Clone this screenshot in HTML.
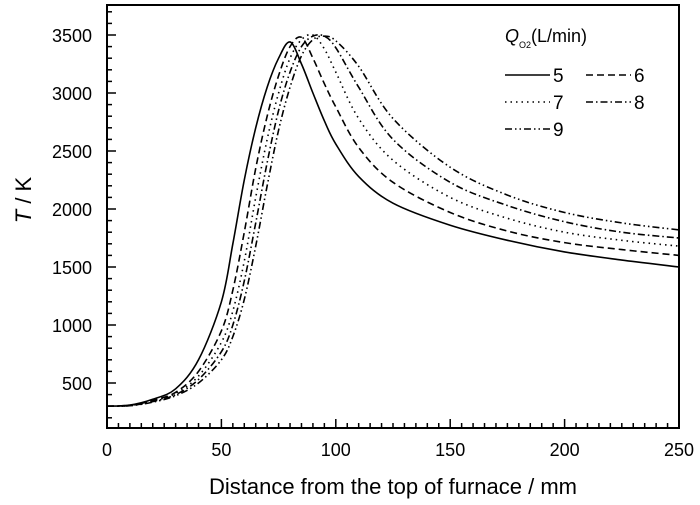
<!DOCTYPE html>
<html><head><meta charset="utf-8"><style>
body{margin:0;background:#fff}
svg{display:block;font-family:"Liberation Sans",Arial,sans-serif}
</style></head><body>
<svg id="chart" width="700" height="505" viewBox="0 0 700 505">
<g id="plot"></g>
</svg>
<script>
const xs=[0,10,20,30,40,50,55,60,65,70,75,80,85,90,95,100,110,125,150,175,200,225,250];
const seriesNames=["5","6","7","8","9"];
const s5=[300,310,360,450,700,1200,1700,2250,2700,3050,3300,3440,3250,3000,2760,2560,2280,2050,1860,1730,1630,1560,1500];
const s6=[300,308,350,420,600,950,1300,1800,2350,2800,3150,3400,3480,3300,3080,2880,2530,2230,1970,1810,1710,1650,1600];
const s7=[300,306,345,410,560,850,1120,1550,2100,2600,3000,3300,3460,3500,3380,3180,2780,2420,2100,1920,1800,1730,1680];
const s8=[300,305,340,400,530,770,1000,1380,1880,2400,2850,3180,3400,3490,3490,3390,3050,2600,2230,2030,1890,1800,1750];
const s9=[300,304,335,390,500,700,900,1220,1680,2200,2680,3050,3320,3460,3490,3450,3230,2780,2360,2120,1970,1880,1820];
const xTicks=[0,50,100,150,200,250];
const yTicks=[500,1000,1500,2000,2500,3000,3500];
const all=[s5,s6,s7,s8,s9];
const dashes=["","7,4","1.5,4","7,3,1.5,3","7,3,1.5,3,1.5,3"];
const L=107,R=679,T=5,B=428;
const X=v=>L+v*(R-L)/250;
const Y=v=>383-(v-500)*0.116;
const NS="http://www.w3.org/2000/svg";
const g=document.getElementById('plot');
function mk(t,a,p){const e=document.createElementNS(NS,t);for(const k in a)e.setAttribute(k,a[k]);(p||g).appendChild(e);return e;}
function path(xv,yv){const p=xv.map((x,i)=>[X(x),Y(yv[i])]);let d="M"+p[0];for(let i=0;i<p.length-1;i++){const p0=p[i-1]||p[i],p1=p[i],p2=p[i+1],p3=p[i+2]||p2;const c1=[p1[0]+(p2[0]-p0[0])/6,p1[1]+(p2[1]-p0[1])/6],c2=[p2[0]-(p3[0]-p1[0])/6,p2[1]-(p3[1]-p1[1])/6];d+="C"+c1+" "+c2+" "+p2;}return d;}
all.forEach((s,i)=>{
const e=mk('path',{d:path(xs,s),fill:'none',stroke:'#000','stroke-width':1.6,'stroke-dasharray':dashes[i]});


});
for(let v=0;v<=250;v+=5){const l=mk('line',{x1:X(v),x2:X(v),y1:B,y2:B-(v%50?5:9),stroke:'#000','stroke-width':1.5});

}
for(let v=200;v<=3700;v+=100){const l=mk('line',{x1:L,x2:L+(v%500?5:9),y1:Y(v),y2:Y(v),stroke:'#000','stroke-width':1.5});

}
xTicks.forEach(v=>{const t=mk('text',{x:X(v),y:456,'font-size':18,'text-anchor':'middle'});t.textContent=v;

});
yTicks.forEach(v=>{const t=mk('text',{x:92,y:Y(v)+7,'font-size':18,'text-anchor':'end'});t.textContent=v;

});
const box=mk('rect',{x:L,y:T,width:R-L,height:B-T,fill:'none',stroke:'#000','stroke-width':2});


const xt=mk('text',{x:393,y:494,'font-size':22,'text-anchor':'middle'});xt.textContent="Distance from the top of furnace / mm";


const yt=mk('text',{x:0,y:0,'font-size':22,'text-anchor':'middle',transform:'translate(31,200) rotate(-90)'});
yt.innerHTML='<tspan font-style="italic">T</tspan> / K';


const lg=mk('g',{});


const lt=mk('text',{x:505,y:42,'font-size':18},lg);
lt.innerHTML='<tspan font-style="italic">Q</tspan><tspan font-size="9" dy="6">O2</tspan><tspan dy="-6">(L/min)</tspan>';
const pos=[[505,82],[586,82],[505,109],[586,109],[505,136]];
seriesNames.forEach((n,i)=>{const [lx,ly]=pos[i];
const ln=mk('line',{x1:lx,x2:lx+45,y1:ly-7,y2:ly-7,stroke:'#000','stroke-width':1.5,'stroke-dasharray':dashes[i]},lg);


const t=mk('text',{x:lx+48,y:ly,'font-size':19},lg);t.textContent=n;

});
</script>
</body></html>
